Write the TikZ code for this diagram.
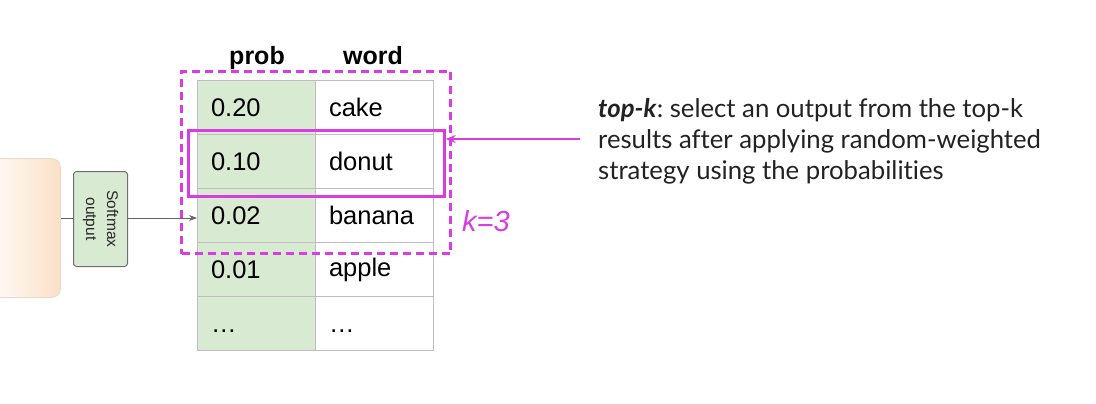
\documentclass[tikz,border=0pt]{standalone}
\usepackage{fontspec}
\setmainfont{Liberation Sans}
\newfontfamily\latofont[Ligatures=NoCommon]{Lato}
\usetikzlibrary{arrows.meta}
\definecolor{mag}{RGB}{216,60,226}
\definecolor{cellgreen}{RGB}{217,234,211}
\definecolor{gridgray}{RGB}{190,190,190}
\definecolor{peach}{RGB}{251,224,198}
\definecolor{desctext}{RGB}{34,34,34}
\tikzset{
  cell/.style={draw=gridgray, line width=1pt, minimum height=54pt, text width=91pt,
    inner xsep=13.5pt, inner ysep=0pt, align=left, font=\fontsize{25.5}{29}\selectfont, anchor=north west},
  probcell/.style={cell, fill=cellgreen},
  header/.style={font=\bfseries\fontsize{25}{29}\selectfont, inner sep=0pt, anchor=base},
  magline/.style={draw=mag, line width=3pt},
}
\newcommand{\lowdots}{\rule{0pt}{18.3pt}\dots}
\begin{document}
\begin{tikzpicture}[x=1pt,y=-1pt]
\useasboundingbox (0,0) rectangle (1096,404);
% left source box
\node[draw={rgb,255:red,232;green,220;blue,206}, line width=1pt, rounded corners=9pt,
  left color=white, right color=peach, minimum width=80pt, minimum height=139pt,
  inner sep=0pt, anchor=north west] (src) at (-20,158) {};
% softmax box
\node[draw={rgb,255:red,110;green,110;blue,110}, line width=1pt, rounded corners=3pt, fill=cellgreen,
  minimum width=54pt, minimum height=95pt, inner sep=0pt, anchor=north west] (soft) at (73,171) {};
\node[rotate=-90, align=center, font=\fontsize{15.5}{21}\selectfont, text={rgb,255:red,40;green,40;blue,40}] (softtxt) at (soft.center) {Softmax\\output};
% table
\foreach \i/\p/\w in {1/0.20/cake,2/0.10/donut,3/0.02/banana,4/0.01/apple,5/\lowdots/\lowdots}{
  \node[probcell] (p\i) at (197,{80+54*(\i-1)}) {\p};
  \node[cell] (w\i) at (315,{80+54*(\i-1)}) {\w};
}
\node[header] (hprob) at (257,65) {prob};
\node[header] (hword) at (373,65) {word};
% connectors
\draw[draw={rgb,255:red,100;green,100;blue,100}, line width=1pt] (src.east |- 0,218) coordinate (s1) -- (soft.west |- s1);
\draw[draw={rgb,255:red,100;green,100;blue,100}, line width=1pt, -{Stealth[length=8pt,width=6pt]}] (soft.east |- s1) -- (p3.west |- s1);
% magenta boxes
\node[magline, dash pattern=on 8pt off 5pt, minimum width=269pt, minimum height=182pt, inner sep=0pt, anchor=north west] (topk) at (180,70) {};
\node[magline, minimum width=255.5pt, minimum height=66pt, inner sep=0pt, anchor=north west] (sel) at (187.2,128.6) {};
\coordinate (astart) at (580,139);
\draw[draw=mag, line width=2.2pt, -{Stealth[length=10pt,width=8pt]}] (astart) -- (astart -| sel.east);
\node[text=mag, font=\itshape\fontsize{29}{32}\selectfont, anchor=west, inner sep=0pt] (klab) at (462,221) {k=3};
% description
\node[anchor=north west, align=left, inner sep=0pt, text=desctext, font=\latofont\frenchspacing\fontsize{25.7}{31}\selectfont] (desc) at (598,98.5)
  {\textbf{\textit{top-k}}: select an output from the top-k\\results after applying random-weighted\\strategy using the probabilities};
\end{tikzpicture}
\end{document}
